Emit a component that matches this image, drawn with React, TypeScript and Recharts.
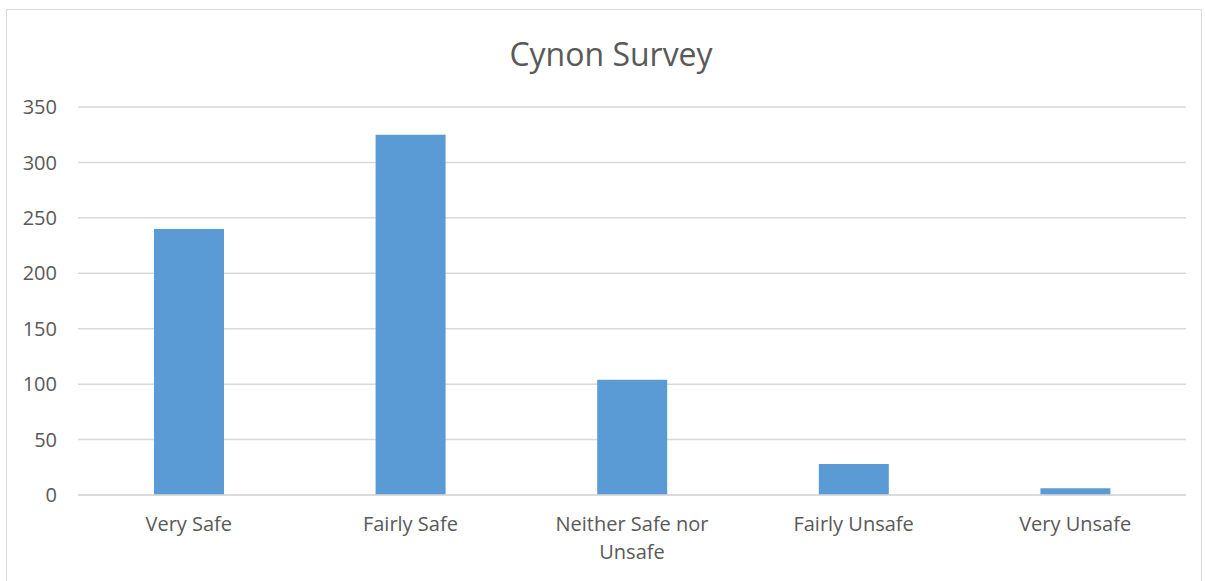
import { Bar, BarChart, CartesianGrid, Text, XAxis, YAxis } from "recharts";

const categories = ["Very Safe", "Fairly Safe", "Neither Safe nor Unsafe", "Fairly Unsafe", "Very Unsafe"];
const responses = [240, 325, 104, 28, 6];
const yTicks = [0, 50, 100, 150, 200, 250, 300, 350];

const data = categories.map((name, i) => ({ name, responses: responses[i] }));

const font = "'Open Sans', sans-serif";
const textColor = "#595959";
const gridColor = "#d9d9d9";

function CategoryTick(props: any) {
  const { x, y, payload } = props;
  return (
    <Text
      x={x}
      y={y}
      width={160}
      textAnchor="middle"
      verticalAnchor="start"
      fontSize={20}
      fontFamily={font}
      style={{ fontSize: 20, fontFamily: font }}
      fill={textColor}
      lineHeight={28}
    >
      {payload.value}
    </Text>
  );
}

export default function App() {
  return (
    <div style={{ position: "absolute", left: 0, top: 0, width: 1205, height: 581, background: "#fff" }}>
      <div
        style={{
          position: "absolute",
          left: 6,
          top: 9,
          width: 1196,
          height: 600,
          border: `1.5px solid ${gridColor}`,
          boxSizing: "border-box",
        }}
      />
      <div
        style={{
          position: "absolute",
          left: 6,
          top: 32,
          width: 1210,
          textAlign: "center",
          fontFamily: font,
          fontSize: 32,
          lineHeight: "44px",
          color: textColor,
        }}
      >
        Cynon Survey
      </div>
      <BarChart
        width={1205}
        height={581}
        data={data}
        margin={{ top: 107, right: 19, left: 0, bottom: 26 }}
        style={{ position: "absolute", left: 0, top: 0 }}
      >
        <CartesianGrid vertical={false} stroke={gridColor} strokeWidth={1.5} />
        <XAxis
          dataKey="name"
          height={60}
          tickLine={false}
          axisLine={{ stroke: gridColor, strokeWidth: 1.5 }}
          interval={0}
          tick={<CategoryTick />}
          tickMargin={16}
        />
        <YAxis
          width={78}
          domain={[0, 350]}
          ticks={yTicks}
          axisLine={false}
          tickLine={false}
          tickMargin={15}
          tick={{ fontSize: 20, fontFamily: font, fill: textColor }}
        />
        <Bar dataKey="responses" fill="#5b9bd5" barSize={70} isAnimationActive={false} />
      </BarChart>
    </div>
  );
}
